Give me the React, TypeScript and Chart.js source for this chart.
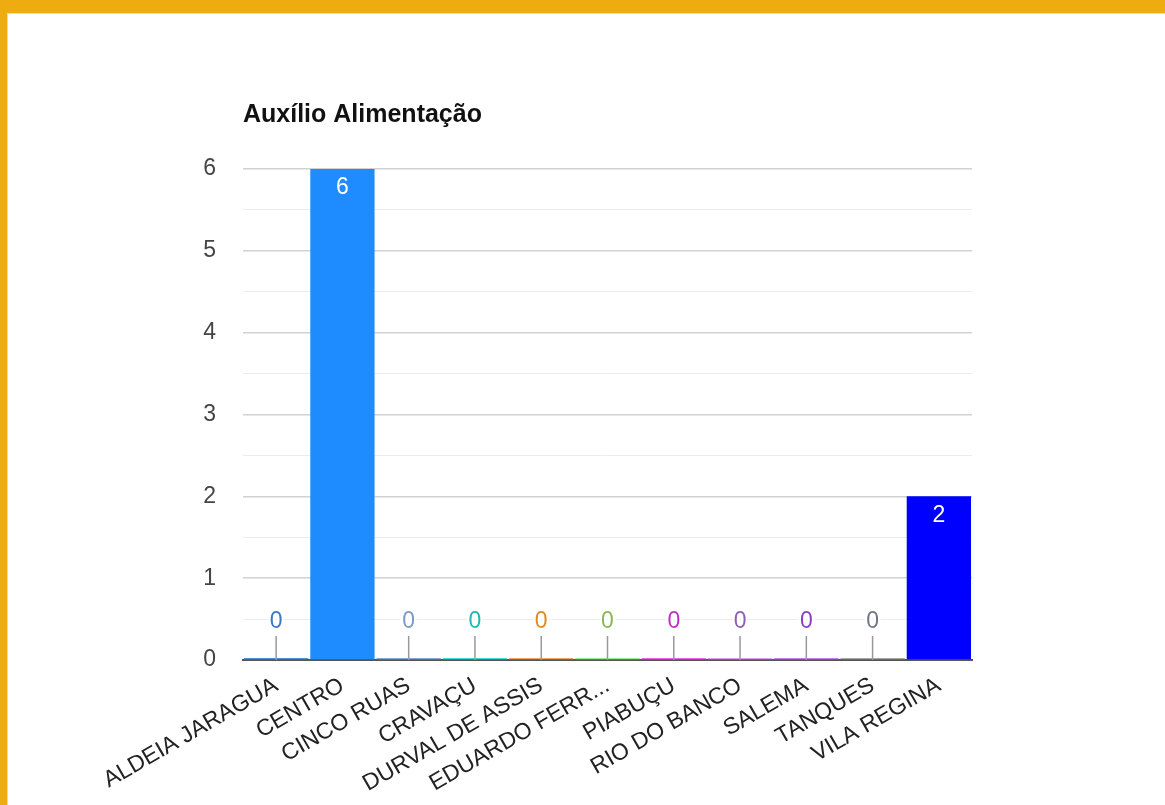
import React, { useEffect, useRef } from "react";
import { Chart, registerables } from "chart.js";

Chart.register(...registerables);

const TITLE = "Auxílio Alimentação";
const categories = [
  "ALDEIA JARAGUA",
  "CENTRO",
  "CINCO RUAS",
  "CRAVAÇU",
  "DURVAL DE ASSIS",
  "EDUARDO FERR...",
  "PIABUÇU",
  "RIO DO BANCO",
  "SALEMA",
  "TANQUES",
  "VILA REGINA",
];
const values = [0, 6, 0, 0, 0, 0, 0, 0, 0, 0, 2];
const yTickValues = [0, 1, 2, 3, 4, 5, 6];

const barColors = [
  "#4A90DA",
  "#1E8CFF",
  "#87A8D0",
  "#40E0D0",
  "#F4A460",
  "#90EE90",
  "#F060F0",
  "#D8A0E6",
  "#C080F0",
  "#A8A8A8",
  "#0000FF",
];
const zeroTextColors = [
  "#3A78C8",
  "#1E8CFF",
  "#7A9CC6",
  "#20B8B0",
  "#E08A20",
  "#8AB858",
  "#C030C0",
  "#9060B0",
  "#8A3FC8",
  "#707888",
  "#0000FF",
];

const FONT = '"Liberation Sans", Arial, sans-serif';

const labelPlugin = {
  id: "labels",
  afterDatasetsDraw(chart: any) {
    const ctx = chart.ctx;
    const meta = chart.getDatasetMeta(0);
    const yScale = chart.scales.y;
    const base = yScale.getPixelForValue(0);
    ctx.save();
    ctx.font = `23px ${FONT}`;
    ctx.textAlign = "center";
    ctx.textBaseline = "middle";
    meta.data.forEach((bar: any, i: number) => {
      const v = values[i];
      if (v > 0) {
        ctx.fillStyle = "#ffffff";
        ctx.fillText(String(v), bar.x, bar.y + 19);
      } else {
        ctx.strokeStyle = "#999999";
        ctx.lineWidth = 1.5;
        ctx.beginPath();
        ctx.moveTo(bar.x, base);
        ctx.lineTo(bar.x, base - 24);
        ctx.stroke();
        ctx.lineWidth = 5;
        ctx.strokeStyle = "#ffffff";
        ctx.lineJoin = "round";
        ctx.strokeText(String(v), bar.x, base - 38);
        ctx.fillStyle = zeroTextColors[i];
        ctx.fillText(String(v), bar.x, base - 38);
      }
    });
    ctx.restore();
  },
  afterDraw(chart: any) {
    const ctx = chart.ctx;
    ctx.save();
    ctx.font = `bold 25px ${FONT}`;
    ctx.fillStyle = "#111111";
    ctx.textAlign = "left";
    ctx.textBaseline = "alphabetic";
    ctx.fillText(TITLE, chart.chartArea.left, 122);
    ctx.restore();
  },
};

export default function App() {
  const ref = useRef<HTMLCanvasElement | null>(null);
  useEffect(() => {
    if (!ref.current) return;
    const chart = new Chart(ref.current, {
      type: "bar",
      data: {
        labels: categories,
        datasets: [
          {
            data: values,
            backgroundColor: barColors,
            borderWidth: 0,
            minBarLength: 2,
            categoryPercentage: 1,
            barPercentage: 0.97,
          },
        ],
      },
      plugins: [labelPlugin],
      options: {
        responsive: false,
        animation: false,
        devicePixelRatio: 1,
        layout: { padding: { left: 0, top: 169, right: 193, bottom: 0 } },
        plugins: {
          legend: { display: false },
          title: { display: false },
          tooltip: { enabled: false },
        },
        scales: {
          x: {
            z: 1,
            grid: { display: false, drawTicks: false },
            border: { display: true, color: "#555555", width: 2 },
            ticks: {
              minRotation: 30,
              maxRotation: 30,
              autoSkip: false,
              padding: 12,
              color: "#222222",
              font: { family: FONT, size: 23 },
            },
            afterFit: (s: any) => {
              s.height = 145;
            },
          },
          y: {
            min: 0,
            max: 6,
            border: { display: false },
            grid: {
              drawTicks: false,
              color: (c: any) =>
                c.tick && Number.isInteger(c.tick.value) ? "#d2d2d2" : "#ececec",
              lineWidth: (c: any) =>
                c.tick && Number.isInteger(c.tick.value) ? 1.5 : 1,
            },
            ticks: {
              stepSize: 0.5,
              padding: 27,
              color: "#444444",
              font: { family: FONT, size: 23 },
              callback: (v: any) =>
                yTickValues.includes(Number(v)) ? String(v) : "",
            },
            afterFit: (s: any) => {
              s.width = 243;
            },
          },
        },
      },
    });
    return () => chart.destroy();
  }, []);

  return (
    <div
      style={{
        position: "fixed",
        left: 0,
        top: 0,
        width: 1165,
        height: 805,
        background: "#EEAC10",
        overflow: "hidden",
      }}
    >
      <div
        style={{
          position: "absolute",
          left: 7,
          top: 13,
          right: 0,
          bottom: 0,
          background: "#ffffff",
          borderTop: "1px solid #F7DC92",
          borderLeft: "1px solid #F7DC92",
          boxSizing: "border-box",
        }}
      />
      <canvas
        ref={ref}
        width={1165}
        height={805}
        style={{ position: "absolute", left: 0, top: 0, width: 1165, height: 805 }}
      />
    </div>
  );
}
